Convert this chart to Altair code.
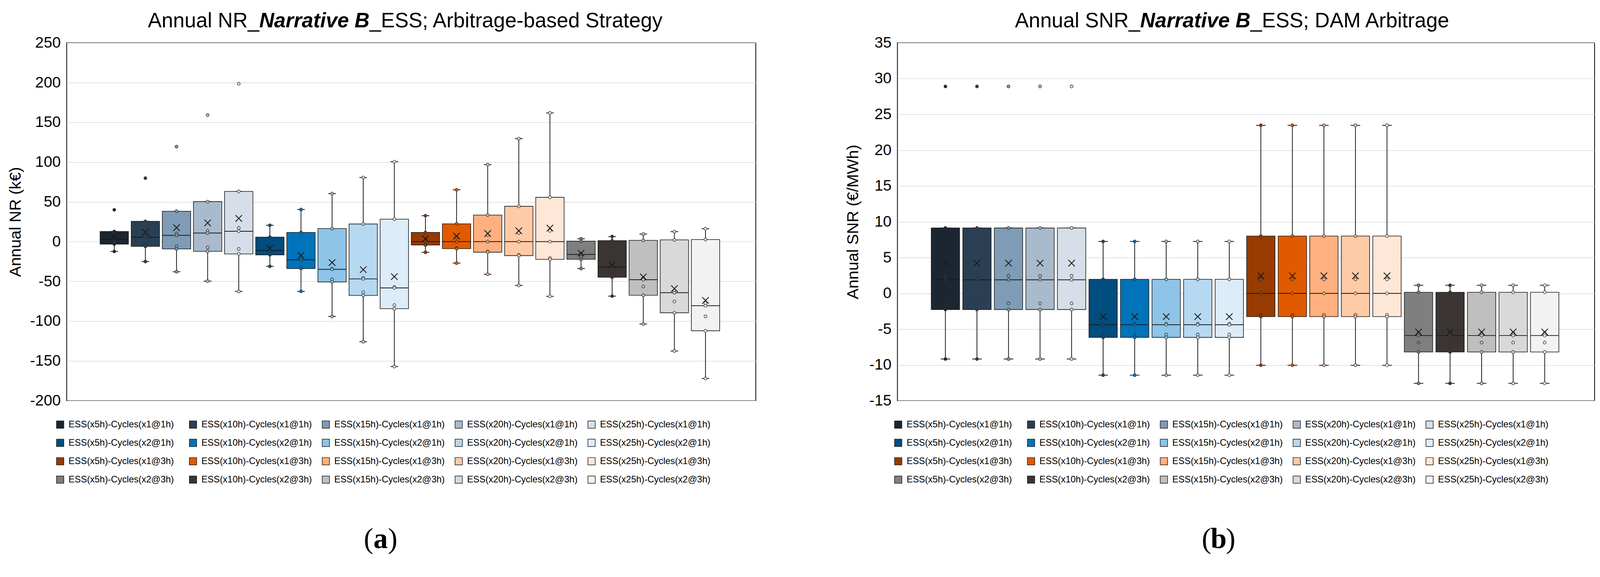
import altair as alt
import numpy as np
import pandas as pd

# ---------------- data ----------------
SERIES = [
    "ESS(x5h)-Cycles(x1@1h)", "ESS(x10h)-Cycles(x1@1h)", "ESS(x15h)-Cycles(x1@1h)", "ESS(x20h)-Cycles(x1@1h)", "ESS(x25h)-Cycles(x1@1h)",
    "ESS(x5h)-Cycles(x2@1h)", "ESS(x10h)-Cycles(x2@1h)", "ESS(x15h)-Cycles(x2@1h)", "ESS(x20h)-Cycles(x2@1h)", "ESS(x25h)-Cycles(x2@1h)",
    "ESS(x5h)-Cycles(x1@3h)", "ESS(x10h)-Cycles(x1@3h)", "ESS(x15h)-Cycles(x1@3h)", "ESS(x20h)-Cycles(x1@3h)", "ESS(x25h)-Cycles(x1@3h)",
    "ESS(x5h)-Cycles(x2@3h)", "ESS(x10h)-Cycles(x2@3h)", "ESS(x15h)-Cycles(x2@3h)", "ESS(x20h)-Cycles(x2@3h)", "ESS(x25h)-Cycles(x2@3h)",
]

COLORS = [
    "#1b2631", "#2a3f54", "#7f9bb6", "#a9bacd", "#d6dfe9",
    "#004d80", "#0073ba", "#8dc4e7", "#b6d8f1", "#dcecf8",
    "#973b00", "#e15a00", "#ffb07e", "#ffcaa6", "#ffe7d7",
    "#7f7f7f", "#3a3533", "#bfbfbf", "#d9d9d9", "#f2f2f2",
]

# Panel (a): Annual NR (k€), seven yearly values per series
NR_X1_1H = [
    [40.0, 12.8, 3.4, 2.8, -2.0, -3.1, -12.3],
    [79.8, 25.5, 6.8, 5.6, -3.9, -6.0, -25.0],
    [119.5, 38.2, 10.2, 7.9, -5.8, -9.2, -37.8],
    [159.2, 50.3, 13.6, 10.8, -7.2, -12.2, -49.6],
    [198.5, 63.1, 17.2, 13.0, -9.2, -15.4, -62.6],
]
NR_X2_1H = [
    [20.6, 5.7, -10.6, -11.0, -15.5, -16.6, -31.0],
    [40.4, 11.6, -22.0, -22.8, -31.5, -33.8, -62.5],
    [60.4, 16.5, -33.8, -34.8, -47.5, -50.6, -94.0],
    [80.6, 22.2, -45.5, -46.8, -63.5, -67.6, -125.8],
    [100.5, 28.3, -57.0, -58.2, -79.8, -84.3, -157.0],
]
NR_X1_3H = [
    [32.6, 11.5, 2.7, 0.0, -4.0, -4.3, -13.4],
    [65.2, 22.4, 5.4, 0.0, -8.2, -8.8, -27.0],
    [96.8, 33.4, 8.2, 0.0, -12.4, -13.3, -41.0],
    [129.5, 44.4, 10.9, 0.0, -16.5, -17.6, -55.0],
    [161.8, 55.7, 13.6, 0.0, -20.7, -22.2, -68.8],
]
NR_X2_3H = [
    [3.6, 0.6, -15.2, -16.0, -19.0, -22.2, -33.8],
    [6.4, 1.2, -30.8, -32.0, -37.5, -44.8, -68.5],
    [9.5, 1.6, -46.0, -47.8, -56.5, -67.4, -103.5],
    [12.6, 2.2, -61.8, -64.2, -75.2, -89.4, -137.5],
    [16.2, 2.6, -77.5, -80.5, -94.0, -112.0, -172.0],
]

# Panel (b): Annual SNR (€/MWh)
SNR_X1_1H = [
    [28.9, 9.13, 2.45, 1.89, -1.4, -2.26, -9.17],
    [28.9, 9.13, 2.45, 1.89, -1.4, -2.26, -9.17],
    [28.9, 9.13, 2.45, 1.89, -1.4, -2.26, -9.17],
    [28.9, 9.13, 2.45, 1.89, -1.4, -2.26, -9.17],
    [28.9, 9.13, 2.45, 1.89, -1.4, -2.26, -9.17],
]
SNR_X2_1H = [
    [7.25, 1.96, -4.25, -4.38, -5.75, -6.15, -11.43],
    [7.25, 1.96, -4.25, -4.38, -5.75, -6.15, -11.43],
    [7.25, 1.96, -4.25, -4.38, -5.75, -6.15, -11.43],
    [7.25, 1.96, -4.25, -4.38, -5.75, -6.15, -11.43],
    [7.25, 1.96, -4.25, -4.38, -5.75, -6.15, -11.43],
]
SNR_X1_3H = [
    [23.47, 8.0, 1.96, 0.0, -3.0, -3.25, -10.04],
    [23.47, 8.0, 1.96, 0.0, -3.0, -3.25, -10.04],
    [23.47, 8.0, 1.96, 0.0, -3.0, -3.25, -10.04],
    [23.47, 8.0, 1.96, 0.0, -3.0, -3.25, -10.04],
    [23.47, 8.0, 1.96, 0.0, -3.0, -3.25, -10.04],
]
SNR_X2_3H = [
    [1.13, 0.15, -5.55, -5.89, -6.87, -8.19, -12.57],
    [1.13, 0.15, -5.55, -5.89, -6.87, -8.19, -12.57],
    [1.13, 0.15, -5.55, -5.89, -6.87, -8.19, -12.57],
    [1.13, 0.15, -5.55, -5.89, -6.87, -8.19, -12.57],
    [1.13, 0.15, -5.55, -5.89, -6.87, -8.19, -12.57],
]

NR_TICKS = [-200, -150, -100, -50, 0, 50, 100, 150, 200, 250]
SNR_TICKS = [-15, -10, -5, 0, 5, 10, 15, 20, 25, 30, 35]

FONT = "Liberation Sans"
INK = "#1a1a1a"


def box_frames(groups):
    data = [s for g in groups for s in g]
    rows, pts = [], []
    for i, (name, vals) in enumerate(zip(SERIES, data)):
        a = np.array(vals, dtype=float)
        q1, med, q3 = np.percentile(a, [25, 50, 75], method="weibull")  # Excel exclusive quartiles
        iqr = q3 - q1
        inside = a[(a >= q1 - 1.5 * iqr) & (a <= q3 + 1.5 * iqr)]
        rows.append(dict(idx=i, series=name, q1=q1, median=med, q3=q3,
                         lo=inside.min(), hi=inside.max(), mean=a.mean()))
        for v in vals:
            pts.append(dict(idx=i, series=name, value=v))
    return pd.DataFrame(rows), pd.DataFrame(pts)


def text_layer(text, x, y, size, align, weight="normal", style="normal", font=FONT):
    return alt.Chart(alt.Data(values=[{}])).mark_text(
        text=text, align=align, baseline="alphabetic", fontSize=size,
        fontWeight=weight, fontStyle=style, font=font, color="black"
    ).encode(x=alt.value(x), y=alt.value(y))


def panel(groups, domain, ticks, ytitle, width, height, xdomain,
          box_w, cap, title_pad, legend_x, title_parts, letter, letter_x):
    stats, pts = box_frames(groups)
    xs = alt.X("idx:Q", axis=None, scale=alt.Scale(domain=xdomain, nice=False, zero=False))
    ys = alt.Scale(domain=domain, nice=False, zero=False)
    yax = alt.Axis(values=ticks, grid=True, gridColor="#d9d9d9", gridWidth=1.5,
                   ticks=False, domain=False, labelFontSize=40, titleFontSize=42,
                   labelFont=FONT, titleFont=FONT, labelColor="black", titleColor="black",
                   titleFontWeight="normal", labelPadding=16, titlePadding=title_pad,
                   labelExpr="'' + datum.value")

    def Y(field):
        return alt.Y(field, type="quantitative", scale=ys, axis=yax, title=ytitle)

    cscale = alt.Scale(domain=SERIES, range=COLORS)
    base = alt.Chart(stats)

    whisk = base.mark_rule(color=INK, strokeWidth=2, opacity=1).encode(x=xs, y=Y("lo"), y2="hi")
    cap_lo = base.mark_tick(color=INK, size=cap, thickness=2, opacity=1, orient="horizontal").encode(x=xs, y=Y("lo"))
    cap_hi = base.mark_tick(color=INK, size=cap, thickness=2, opacity=1, orient="horizontal").encode(x=xs, y=Y("hi"))
    box = base.mark_bar(width=box_w, stroke=INK, strokeWidth=1.6, opacity=1).encode(
        x=xs, y=Y("q1"), y2="q3",
        color=alt.Color("series:N", scale=cscale, sort=SERIES,
                        legend=alt.Legend(
                            orient="none", legendX=legend_x, legendY=height + 50,
                            direction="horizontal", columns=5, title=None,
                            symbolType="square", symbolSize=361,
                            symbolStrokeColor=INK, symbolStrokeWidth=1.5, symbolOpacity=1,
                            labelFontSize=24, labelFont=FONT, labelColor="black",
                            labelOffset=10, labelLimit=0, columnPadding=23, rowPadding=22,
                            gridAlign="all", padding=0)))
    med = base.mark_tick(color=INK, size=box_w, thickness=2, opacity=1, orient="horizontal").encode(x=xs, y=Y("median"))
    dots = alt.Chart(pts).mark_circle(size=60, stroke="#333333", strokeWidth=1.4, opacity=1).encode(
        x=xs, y=Y("value"),
        fill=alt.Fill("series:N", scale=cscale, legend=None))
    mean = base.mark_point(shape="M-1,-1L1,1M1,-1L-1,1", size=289, stroke=INK,
                           strokeWidth=2.2, filled=False, opacity=1).encode(x=xs, y=Y("mean"))

    t1, t2, t3, x2, x3 = title_parts
    titles = [
        text_layer(t1, x2, -40, 54, "right"),
        text_layer(t2, x2, -40, 54, "left", weight="bold", style="italic"),
        text_layer(t3, x3, -40, 54, "left"),
        text_layer("(", letter_x - 19, height + 385, 75, "right", font="Liberation Serif"),
        text_layer(letter, letter_x, height + 385, 75, "center", weight="bold", font="Liberation Serif"),
        text_layer(")", letter_x + 19, height + 385, 75, "left", font="Liberation Serif"),
    ]
    return alt.layer(whisk, cap_lo, cap_hi, box, med, dots, mean, *titles).properties(
        width=width, height=height)


left = panel([NR_X1_1H, NR_X2_1H, NR_X1_3H, NR_X2_3H], [-200, 250], NR_TICKS,
             "Annual NR (k€)", 1800, 935, [-1.468, 20.554], 74, 20, 16, -29,
             ("Annual NR_", "Narrative B", "_ESS; Arbitrage-based Strategy", 503, 791),
             "a", 820)
right = panel([SNR_X1_1H, SNR_X2_1H, SNR_X1_3H, SNR_X2_3H], [-15, 35], SNR_TICKS,
              "Annual SNR (€/MWh)", 1821, 935, [-1.461, 20.521], 74, 25, 20, -10,
              ("Annual SNR_", "Narrative B", "_ESS; DAM Arbitrage", 634, 922),
              "b", 839)

chart = alt.hconcat(left, right, spacing=231).resolve_scale(
    color="independent", fill="independent", x="independent", y="independent"
).resolve_legend(color="independent", fill="independent").properties(
    padding={"left": 9, "top": 5, "right": 5, "bottom": 5}
).configure(font=FONT).configure_view(stroke="black", strokeWidth=2)

chart.save("out.html", embed_options={"renderer": "svg", "actions": False})
